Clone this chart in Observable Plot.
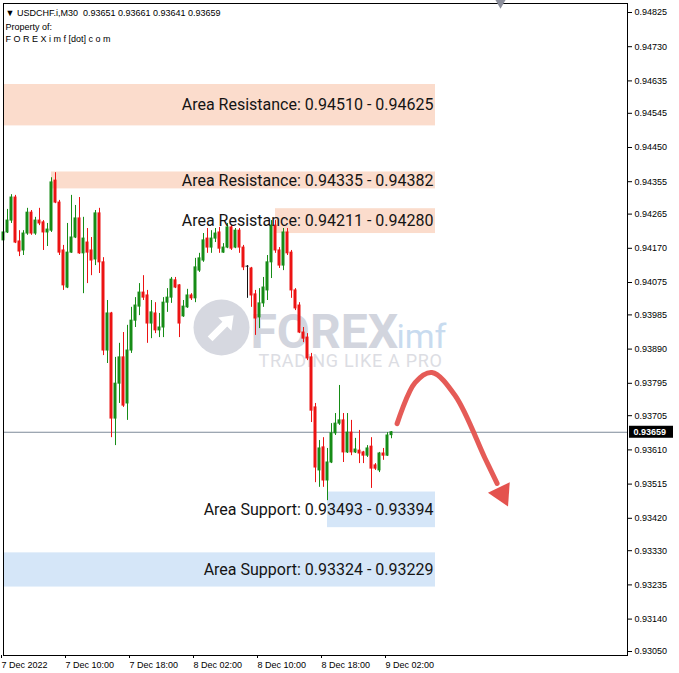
<!DOCTYPE html>
<html><head><meta charset="utf-8">
<script src="https://cdn.jsdelivr.net/npm/d3@7"></script>
<script src="https://cdn.jsdelivr.net/npm/@observablehq/plot@0.6"></script>
<style>
html,body{margin:0;padding:0;background:#fff;}
#chart{width:679px;height:673px;overflow:hidden;}
#chart [fill="#dcdde3"]{letter-spacing:0.7px;}
</style></head><body><div id="chart"></div>
<script>
const symbol = "USDCHF.i,M30";
const open = [0.94192,0.94214,0.94247,0.94311,0.94189,0.94164,0.94211,0.94269,0.94211,0.94247,
0.94242,0.94214,0.94219,0.94358,0.94297,0.94164,0.94061,0.94158,0.94200,0.94253,
0.94156,0.94186,0.94164,0.94139,0.94267,0.94131,0.93886,0.93989,0.93697,0.93794,
0.93867,0.93739,0.93886,0.93969,0.94008,0.94047,0.94039,0.93961,0.93989,0.93942,
0.93950,0.94019,0.94033,0.94081,0.94067,0.93981,0.94006,0.94039,0.94031,0.94108,
0.94136,0.94197,0.94172,0.94197,0.94214,0.94158,0.94172,0.94228,0.94172,0.94219,
0.94172,0.94119,0.94114,0.94042,0.93978,0.94017,0.94053,0.94131,0.94233,0.94164,
0.94122,0.94214,0.94158,0.94053,0.94011,0.93936,0.93922,0.93867,0.93728,0.93553,
0.93617,0.93525,0.93575,0.93656,0.93683,0.93692,0.93603,0.93658,0.93603,0.93608,
0.93603,0.93594,0.93619,0.93567,0.93553,0.93600,0.93594,0.93651];
const high = [0.94231,0.94278,0.94319,0.94317,0.94219,0.94219,0.94281,0.94275,0.94256,0.94281,
0.94247,0.94239,0.94366,0.94380,0.94303,0.94178,0.94239,0.94317,0.94289,0.94311,
0.94256,0.94225,0.94200,0.94275,0.94281,0.94144,0.94025,0.93992,0.93867,0.93906,
0.93936,0.93956,0.94006,0.94033,0.94072,0.94094,0.94053,0.94025,0.94019,0.93989,
0.94033,0.94058,0.94089,0.94089,0.94069,0.94025,0.94056,0.94044,0.94142,0.94156,
0.94211,0.94225,0.94219,0.94225,0.94228,0.94183,0.94239,0.94233,0.94225,0.94225,
0.94178,0.94122,0.94117,0.94053,0.94058,0.94089,0.94150,0.94247,0.94247,0.94172,
0.94225,0.94225,0.94164,0.94058,0.94019,0.93950,0.93933,0.93878,0.93739,0.93636,
0.93644,0.93614,0.93683,0.93711,0.93789,0.93711,0.93711,0.93692,0.93642,0.93664,
0.93606,0.93622,0.93644,0.93572,0.93603,0.93614,0.93658,0.93661];
const low = [0.94169,0.94211,0.94239,0.94183,0.94147,0.94150,0.94206,0.94206,0.94206,0.94233,
0.94164,0.94175,0.94214,0.94294,0.94150,0.94053,0.94058,0.94156,0.94197,0.94153,
0.94044,0.94072,0.94094,0.94122,0.94100,0.93872,0.93850,0.93644,0.93622,0.93739,
0.93728,0.93692,0.93878,0.93950,0.93983,0.94025,0.93906,0.93919,0.93933,0.93922,
0.93922,0.93992,0.94017,0.94058,0.93922,0.93978,0.94003,0.94025,0.94019,0.94103,
0.94131,0.94156,0.94156,0.94186,0.94156,0.94156,0.94169,0.94164,0.94169,0.94156,
0.94108,0.94031,0.94006,0.93928,0.93947,0.94006,0.94025,0.94086,0.94156,0.94114,
0.94108,0.94150,0.94031,0.93997,0.93933,0.93908,0.93858,0.93686,0.93519,0.93506,
0.93506,0.93469,0.93572,0.93650,0.93678,0.93575,0.93600,0.93594,0.93600,0.93572,
0.93572,0.93589,0.93503,0.93553,0.93547,0.93581,0.93592,0.93641];
const close = [0.94214,0.94247,0.94311,0.94186,0.94161,0.94211,0.94269,0.94211,0.94247,0.94239,
0.94214,0.94222,0.94353,0.94297,0.94158,0.94067,0.94158,0.94200,0.94253,0.94156,
0.94197,0.94158,0.94136,0.94267,0.94131,0.93886,0.93989,0.93697,0.93794,0.93867,
0.93733,0.93886,0.93969,0.94011,0.94047,0.94033,0.93961,0.93992,0.93942,0.93950,
0.94019,0.94033,0.94083,0.94061,0.93961,0.94008,0.94039,0.94031,0.94117,0.94142,
0.94192,0.94172,0.94197,0.94211,0.94169,0.94172,0.94228,0.94169,0.94219,0.94172,
0.94117,0.94119,0.94039,0.93975,0.94017,0.94061,0.94131,0.94233,0.94164,0.94122,
0.94214,0.94156,0.94053,0.94003,0.93936,0.93919,0.93864,0.93719,0.93561,0.93614,
0.93525,0.93575,0.93656,0.93683,0.93692,0.93603,0.93658,0.93603,0.93611,0.93600,
0.93594,0.93614,0.93558,0.93558,0.93600,0.93594,0.93650,0.93659];

const xTickBars = [0, 16, 32, 48, 64, 80, 96];
const xTickLabels = ["7 Dec 2022", "7 Dec 10:00", "7 Dec 18:00", "8 Dec 02:00", "8 Dec 10:00", "8 Dec 18:00", "9 Dec 02:00"];
const yTicks = [0.94825,0.94730,0.94635,0.94545,0.94450,0.94355,0.94265,0.94170,0.94075,0.93985,
0.93890,0.93795,0.93705,0.93610,0.93515,0.93420,0.93330,0.93235,0.93140,0.93050];

const zoneLabel = ["Area Resistance: 0.94510 - 0.94625", "Area Resistance: 0.94335 - 0.94382",
  "Area Resistance: 0.94211 - 0.94280", "Area Support: 0.93493 - 0.93394", "Area Support: 0.93324 - 0.93229"];
const zoneKind = ["resistance", "resistance", "resistance", "support", "support"];
const zoneLow = [0.94510, 0.94335, 0.94211, 0.93394, 0.93229];
const zoneHigh = [0.94625, 0.94382, 0.94280, 0.93493, 0.93324];
const zoneStartBar = [0, 12, 68, 81, 0];
const zoneEndBar = 108;

const forecastBar = [98.4, 102.9, 107.1, 112.9, 120.4, 123.4];
const forecastPrice = [0.93683, 0.93797, 0.93825, 0.93761, 0.93586, 0.93517];
const arrowHeadBar = [124.6];
const arrowHeadPrice = [0.93488];

const currentPrice = close[close.length - 1];

const bars = open.map((o, i) => ({i, open: o, high: high[i], low: low[i], close: close[i]}));
const zones = zoneLabel.map((label, k) => ({label, kind: zoneKind[k], lo: zoneLow[k], hi: zoneHigh[k], start: zoneStartBar[k]}));
const forecast = forecastBar.map((b, k) => ({bar: b, price: forecastPrice[k]}));
const head = arrowHeadBar.map((b, k) => ({bar: b, price: arrowHeadPrice[k]}));
const upColor = "#168c16", downColor = "#ec1313", dojiColor = "#111111";
const candleColor = d => d.close > d.open ? upColor : d.close < d.open ? downColor : dojiColor;
const last = bars[bars.length - 1];
const headerLine = `\u25BC ${symbol}  ${last.open.toFixed(5)} ${last.high.toFixed(5)} ${last.low.toFixed(5)} ${last.close.toFixed(5)}`;
const smallFont = "Liberation Sans, Arial, DejaVu Sans, sans-serif";

// white arrow drawn inside the watermark logo circle (custom symbol)
const logoArrow = {
  draw(context, size) {
    const r = Math.sqrt(size / Math.PI);
    const c = Math.SQRT1_2;
    const pts = [[-0.62,-0.13],[0.18,-0.13],[0.18,-0.36],[0.66,0],[0.18,0.36],[0.18,0.13],[-0.62,0.13]];
    pts.forEach(([u, v], k) => {
      const x = (u * c + v * c) * r, y = (-u * c + v * c) * r;
      if (k === 0) context.moveTo(x, y); else context.lineTo(x, y);
    });
    context.closePath();
  }
};

const chart = Plot.plot({
  width: 679,
  height: 673,
  marginTop: 3,
  marginRight: 52,
  marginBottom: 18,
  marginLeft: 3,
  style: {fontFamily: smallFont, fontSize: "9px", background: "#ffffff", color: "#000"},
  x: {type: "linear", domain: [0, 156]},
  y: {type: "linear", domain: [0.9303889, 0.9485]},
  color: {type: "identity"},
  marks: [
    // zones
    Plot.rect(zones, {x1: "start", x2: () => zoneEndBar, y1: "lo", y2: "hi",
      fill: d => d.kind === "resistance" ? "#fbdccc" : "#d5e6f8"}),
    // watermark
    Plot.dot([0], {frameAnchor: "top-left", dx: 218, dy: 324, r: 28, fill: "#d6d8e0"}),
    Plot.dot([0], {frameAnchor: "top-left", dx: 218, dy: 324, r: 26, symbol: logoArrow, fill: "#ffffff"}),
    Plot.text(["FOREX"], {frameAnchor: "top-left", dx: 247, dy: 344, textAnchor: "start", lineAnchor: "bottom", fontSize: 48, fontWeight: "bold", fill: "#d2d5de", fontFamily: "Roboto"}),
    Plot.text(["imf"], {frameAnchor: "top-left", dx: 393, dy: 344, textAnchor: "start", lineAnchor: "bottom", fontSize: 34, fill: "#c8dbef", fontFamily: "Roboto"}),
    Plot.text(["TRADING LIKE A PRO"], {frameAnchor: "top-left", dx: 255, dy: 363, textAnchor: "start", lineAnchor: "bottom", fontSize: 18, fill: "#dcdde3", fontFamily: "Roboto"}),
    // current price line
    Plot.ruleY([currentPrice], {stroke: "#7d8b99", strokeWidth: 1}),
    // candles
    Plot.ruleX(bars, {x: "i", y1: "low", y2: "high", stroke: candleColor, strokeWidth: 1}),
    Plot.rect(bars, {x1: d => d.i - 0.375, x2: d => d.i + 0.375, y1: "open", y2: "close", fill: candleColor, insetTop: -0.5, insetBottom: -0.5}),
    // zone labels
    Plot.text(zones, {x: () => zoneEndBar, y: d => (d.lo + d.hi) / 2, text: "label", textAnchor: "end", dx: -2,
      fontSize: 16, fontFamily: "Roboto", fill: "#141414"}),
    // forecast arrow
    Plot.line(forecast, {x: "bar", y: "price", curve: "catmull-rom", stroke: "#e4524e", strokeWidth: 5, strokeLinecap: "round", strokeOpacity: 0.95}),
    Plot.dot(head, {x: "bar", y: "price", symbol: "triangle", r: 9, rotate: 154, fill: "#e4524e", stroke: "none"}),
    // frame
    Plot.frame({stroke: "#000"}),
    // axes
    Plot.axisY({anchor: "right", ticks: yTicks, tickFormat: d3.format(".5f"), tickSize: 4, tickPadding: 3, label: null}),
    Plot.axisX({anchor: "bottom", ticks: xTickBars, tickFormat: (d) => xTickLabels[xTickBars.indexOf(d)], tickSize: 3, tickPadding: 3, textAnchor: "start", dx: -2, label: null}),
    // current price tag
    Plot.rect([currentPrice], {x1: () => 156, x2: () => 156, y1: d => d, y2: d => d, insetLeft: 2, insetRight: -46, insetTop: -6, insetBottom: -6, fill: "#000"}),
    Plot.text([currentPrice], {x: () => 156, y: d => d, text: d => d.toFixed(5), textAnchor: "start", dx: 6, fill: "#fff", fontSize: 9, fontWeight: "bold"}),
    // header
    Plot.text([headerLine], {frameAnchor: "top-left", dx: 2, dy: 12.5, textAnchor: "start", lineAnchor: "bottom", fontSize: 9, fill: "#000"}),
    Plot.text(["Property of:"], {frameAnchor: "top-left", dx: 2, dy: 26, textAnchor: "start", lineAnchor: "bottom", fontSize: 9, fill: "#000"}),
    Plot.text(["F O R E X i m f [dot] c o m"], {frameAnchor: "top-left", dx: 2, dy: 38.5, textAnchor: "start", lineAnchor: "bottom", fontSize: 9, fill: "#000"}),
    // chart shift marker
    Plot.dot([0], {frameAnchor: "top-left", dx: 497, dy: -1, symbol: "triangle", rotate: 180, r: 4, fill: "#8c8f9c"})
  ]
});
document.getElementById("chart").appendChild(chart);
</script></body></html>
